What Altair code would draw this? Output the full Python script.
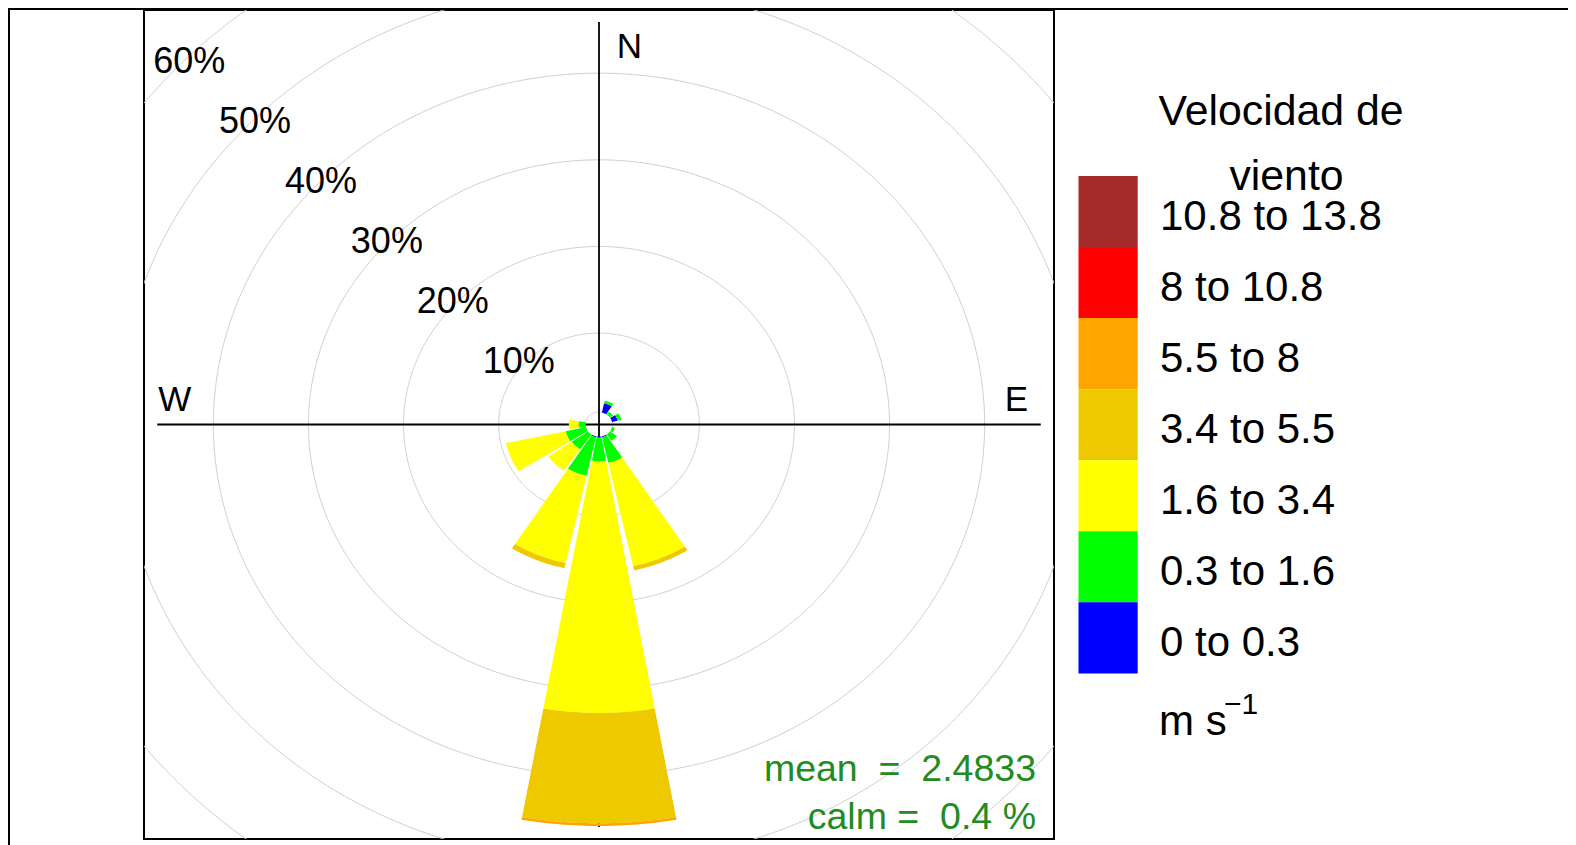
import numpy as np
import pandas as pd
import altair as alt

# ---------------- data ----------------
directions = [0.0, 22.5, 45.0, 67.5, 90.0, 112.5, 135.0, 157.5,
              180.0, 202.5, 225.0, 247.5, 270.0, 292.5, 315.0, 337.5]
speed_bins = ["0 to 0.3", "0.3 to 1.6", "1.6 to 3.4", "3.4 to 5.5",
              "5.5 to 8", "8 to 10.8", "10.8 to 13.8"]
bin_colors = ["#0000FF", "#00FF00", "#FFFF00", "#EEC900",
              "#FFA500", "#FF0000", "#A52A2A"]

# percentage of time per direction, for each wind-speed bin
pct_0_03    = [0, 1.1, 0, 0.6, 0, 0, 0, 0.1, 0.1, 0.1, 0, 0, 0, 0, 0, 0]
pct_03_16   = [0, 0.3, 0.4, 0.4, 0, 0.3, 0.9, 3.03, 2.74, 4.56, 2.1, 2.19, 0.72, 0, 0, 0]
pct_16_34   = [0, 0, 0, 0, 0, 0, 0, 12.2, 29.06, 10.31, 2.98, 6.43, 1.05, 0, 0, 0]
pct_34_55   = [0, 0, 0, 0, 0, 0, 0, 0.5, 12.73, 0.6, 0, 0, 0, 0, 0, 0]
pct_55_8    = [0, 0, 0, 0, 0, 0, 0, 0, 0.31, 0, 0, 0, 0, 0, 0, 0]
pct_8_108   = [0] * 16
pct_108_138 = [0] * 16

grid_pcts = [10, 20, 30, 40, 50, 60]
grid_labels = ["10%", "20%", "30%", "40%", "50%", "60%"]
compass_labels = ["N", "W", "E"]
compass_x = [3.2, -44.6, 43.9]
compass_y = [43.6, 2.8, 2.8]
NB = "\u00a0"
mean_text = "mean" + NB + NB + "=" + NB + NB + "2.4833"
calm_text = "calm" + NB + "=" + NB + NB + "0.4" + NB + "%"
legend_title = ["Velocidad de", "viento"]

# ---------------- geometry (layout) ----------------
HOLE = 1.4             # radial hole where the wedges start
RING_OFF = 0.55        # radial offset of the grid circles
HALF = 0.9 * 22.5 / 2  # half wedge width (deg)
M = 46.45              # axis half length
D = 1.03 * M           # panel half range
W, H = 910, 829

series = [pct_0_03, pct_03_16, pct_16_34, pct_34_55, pct_55_8, pct_8_108, pct_108_138]
rows = []
for di, d in enumerate(directions):
    cum = 0.0
    for bi, s in enumerate(series):
        v = s[di]
        if v <= 0:
            continue
        lo, hi = cum + HOLE, cum + v + HOLE
        cum += v
        th = np.radians(np.linspace(d - HALF, d + HALF, 30))
        xs = list(hi * np.sin(th)) + list(lo * np.sin(th[::-1]))
        ys = list(hi * np.cos(th)) + list(lo * np.cos(th[::-1]))
        for k, (x, y) in enumerate(zip(xs, ys)):
            rows.append({"pid": f"{di}-{bi}", "bin": speed_bins[bi], "k": k, "x": x, "y": y})
wedges = pd.DataFrame(rows)

ring_rows = []
ring_radii = [HOLE + 0.05] + [p + RING_OFF for p in grid_pcts]
for ri, r in enumerate(ring_radii):
    th = np.radians(np.linspace(0, 360, 361))
    for k, t in enumerate(th):
        ring_rows.append({"ring": ri, "k": k, "x": r * np.sin(t), "y": r * np.cos(t)})
rings = pd.DataFrame(ring_rows)

lab_r = [0.98 * p + 1.4 for p in grid_pcts]
labels_df = pd.DataFrame({
    "label": grid_labels,
    "x": [r * np.sin(np.radians(315)) for r in lab_r],
    "y": [r * np.cos(np.radians(315)) for r in lab_r],
})
compass_df = pd.DataFrame({"label": compass_labels, "x": compass_x, "y": compass_y})
axes_df = pd.DataFrame({"x": [-M, 0], "x2": [M, 0], "y": [0, -M], "y2": [0, M]})

xs_ = alt.Scale(domain=[-D, D], nice=False, zero=False)
ys_ = alt.Scale(domain=[-D, D], nice=False, zero=False)
color_scale = alt.Scale(domain=speed_bins, range=bin_colors)
FONT = "Liberation Sans"

ring_layer = alt.Chart(rings).mark_line(clip=True, color="#D0D0D0", strokeWidth=1).encode(
    x=alt.X("x:Q", scale=xs_, axis=None),
    y=alt.Y("y:Q", scale=ys_, axis=None),
    order="k:Q", detail="ring:N")

axes_layer = alt.Chart(axes_df).mark_rule(color="black", strokeWidth=1.8).encode(
    x="x:Q", x2="x2:Q", y="y:Q", y2="y2:Q")

wedge_layer = alt.Chart(wedges).mark_line(filled=True, strokeWidth=0).encode(
    x="x:Q", y="y:Q",
    color=alt.Color("bin:N", scale=color_scale, legend=None),
    order="k:Q", detail="pid:N")

pct_layer = alt.Chart(labels_df).mark_text(font=FONT, fontSize=36, dx=-5, dy=6.5,
                                           baseline="middle", color="black").encode(
    x="x:Q", y="y:Q", text="label:N")

compass_layer = alt.Chart(compass_df).mark_text(font=FONT, fontSize=35, baseline="middle",
                                                color="black").encode(
    x="x:Q", y="y:Q", text="label:N")

one = pd.DataFrame({"a": [0]})
mean_layer = alt.Chart(one).mark_text(text=mean_text, font=FONT, fontSize=37.5, align="right",
                                      baseline="alphabetic", color="#228B22").encode(
    x=alt.value(892), y=alt.value(771))
calm_layer = alt.Chart(one).mark_text(text=calm_text, font=FONT, fontSize=37.5, align="right",
                                      baseline="alphabetic", color="#228B22").encode(
    x=alt.value(892), y=alt.value(819))

# legend (drawn manually, right of the panel)
LEG_TOP, LEG_H = 166.0, 71.06
order_top = list(reversed(speed_bins))
leg_df = pd.DataFrame({
    "bin": order_top,
    "y0": [LEG_TOP + i * LEG_H for i in range(7)],
    "y1": [LEG_TOP + (i + 1) * LEG_H for i in range(7)],
    "yl": [LEG_TOP + (i + 0.5) * LEG_H + 18 for i in range(7)],
})
leg_rect = alt.Chart(leg_df).mark_rect().encode(
    x=alt.value(934.5), x2=alt.value(993.7),
    y=alt.Y("y0:Q", scale=None), y2="y1:Q",
    color=alt.Color("bin:N", scale=color_scale, legend=None))
leg_text = alt.Chart(leg_df).mark_text(font=FONT, fontSize=42, align="left",
                                       baseline="alphabetic", color="black").encode(
    x=alt.value(1016), y=alt.Y("yl:Q", scale=None), text="bin:N")
title1 = alt.Chart(one).mark_text(text=legend_title[0], font=FONT, fontSize=42.8, align="center",
                                  baseline="alphabetic", color="black").encode(
    x=alt.value(1137), y=alt.value(115))
title2 = alt.Chart(one).mark_text(text=legend_title[1], font=FONT, fontSize=42.8, align="center",
                                  baseline="alphabetic", color="black").encode(
    x=alt.value(1142.5), y=alt.value(179.5))
unit1 = alt.Chart(one).mark_text(text="m s", font=FONT, fontSize=42, align="left",
                                 baseline="alphabetic", color="black").encode(
    x=alt.value(1015), y=alt.value(725))
unit2 = alt.Chart(one).mark_text(text="\u22121", font=FONT, fontSize=30, align="left",
                                 baseline="alphabetic", color="black").encode(
    x=alt.value(1080), y=alt.value(704))

# page border lines
border_top = alt.Chart(one).mark_rule(color="black", strokeWidth=2).encode(
    x=alt.value(-136), x2=alt.value(1424), y=alt.value(-1))
border_left = alt.Chart(one).mark_rule(color="black", strokeWidth=2).encode(
    x=alt.value(-135), y=alt.value(-2), y2=alt.value(835))

chart = alt.layer(
    ring_layer, axes_layer, wedge_layer, pct_layer, compass_layer, mean_layer, calm_layer,
    leg_rect, leg_text, title1, title2, unit1, unit2, border_top, border_left
).properties(
    width=W, height=H,
    autosize=alt.AutoSizeParams(type="none"),
    padding={"left": 136, "top": 2, "right": 514, "bottom": 6},
).configure_view(stroke="black", strokeWidth=2)

chart.save("out.html", embed_options={"renderer": "svg", "actions": False})
